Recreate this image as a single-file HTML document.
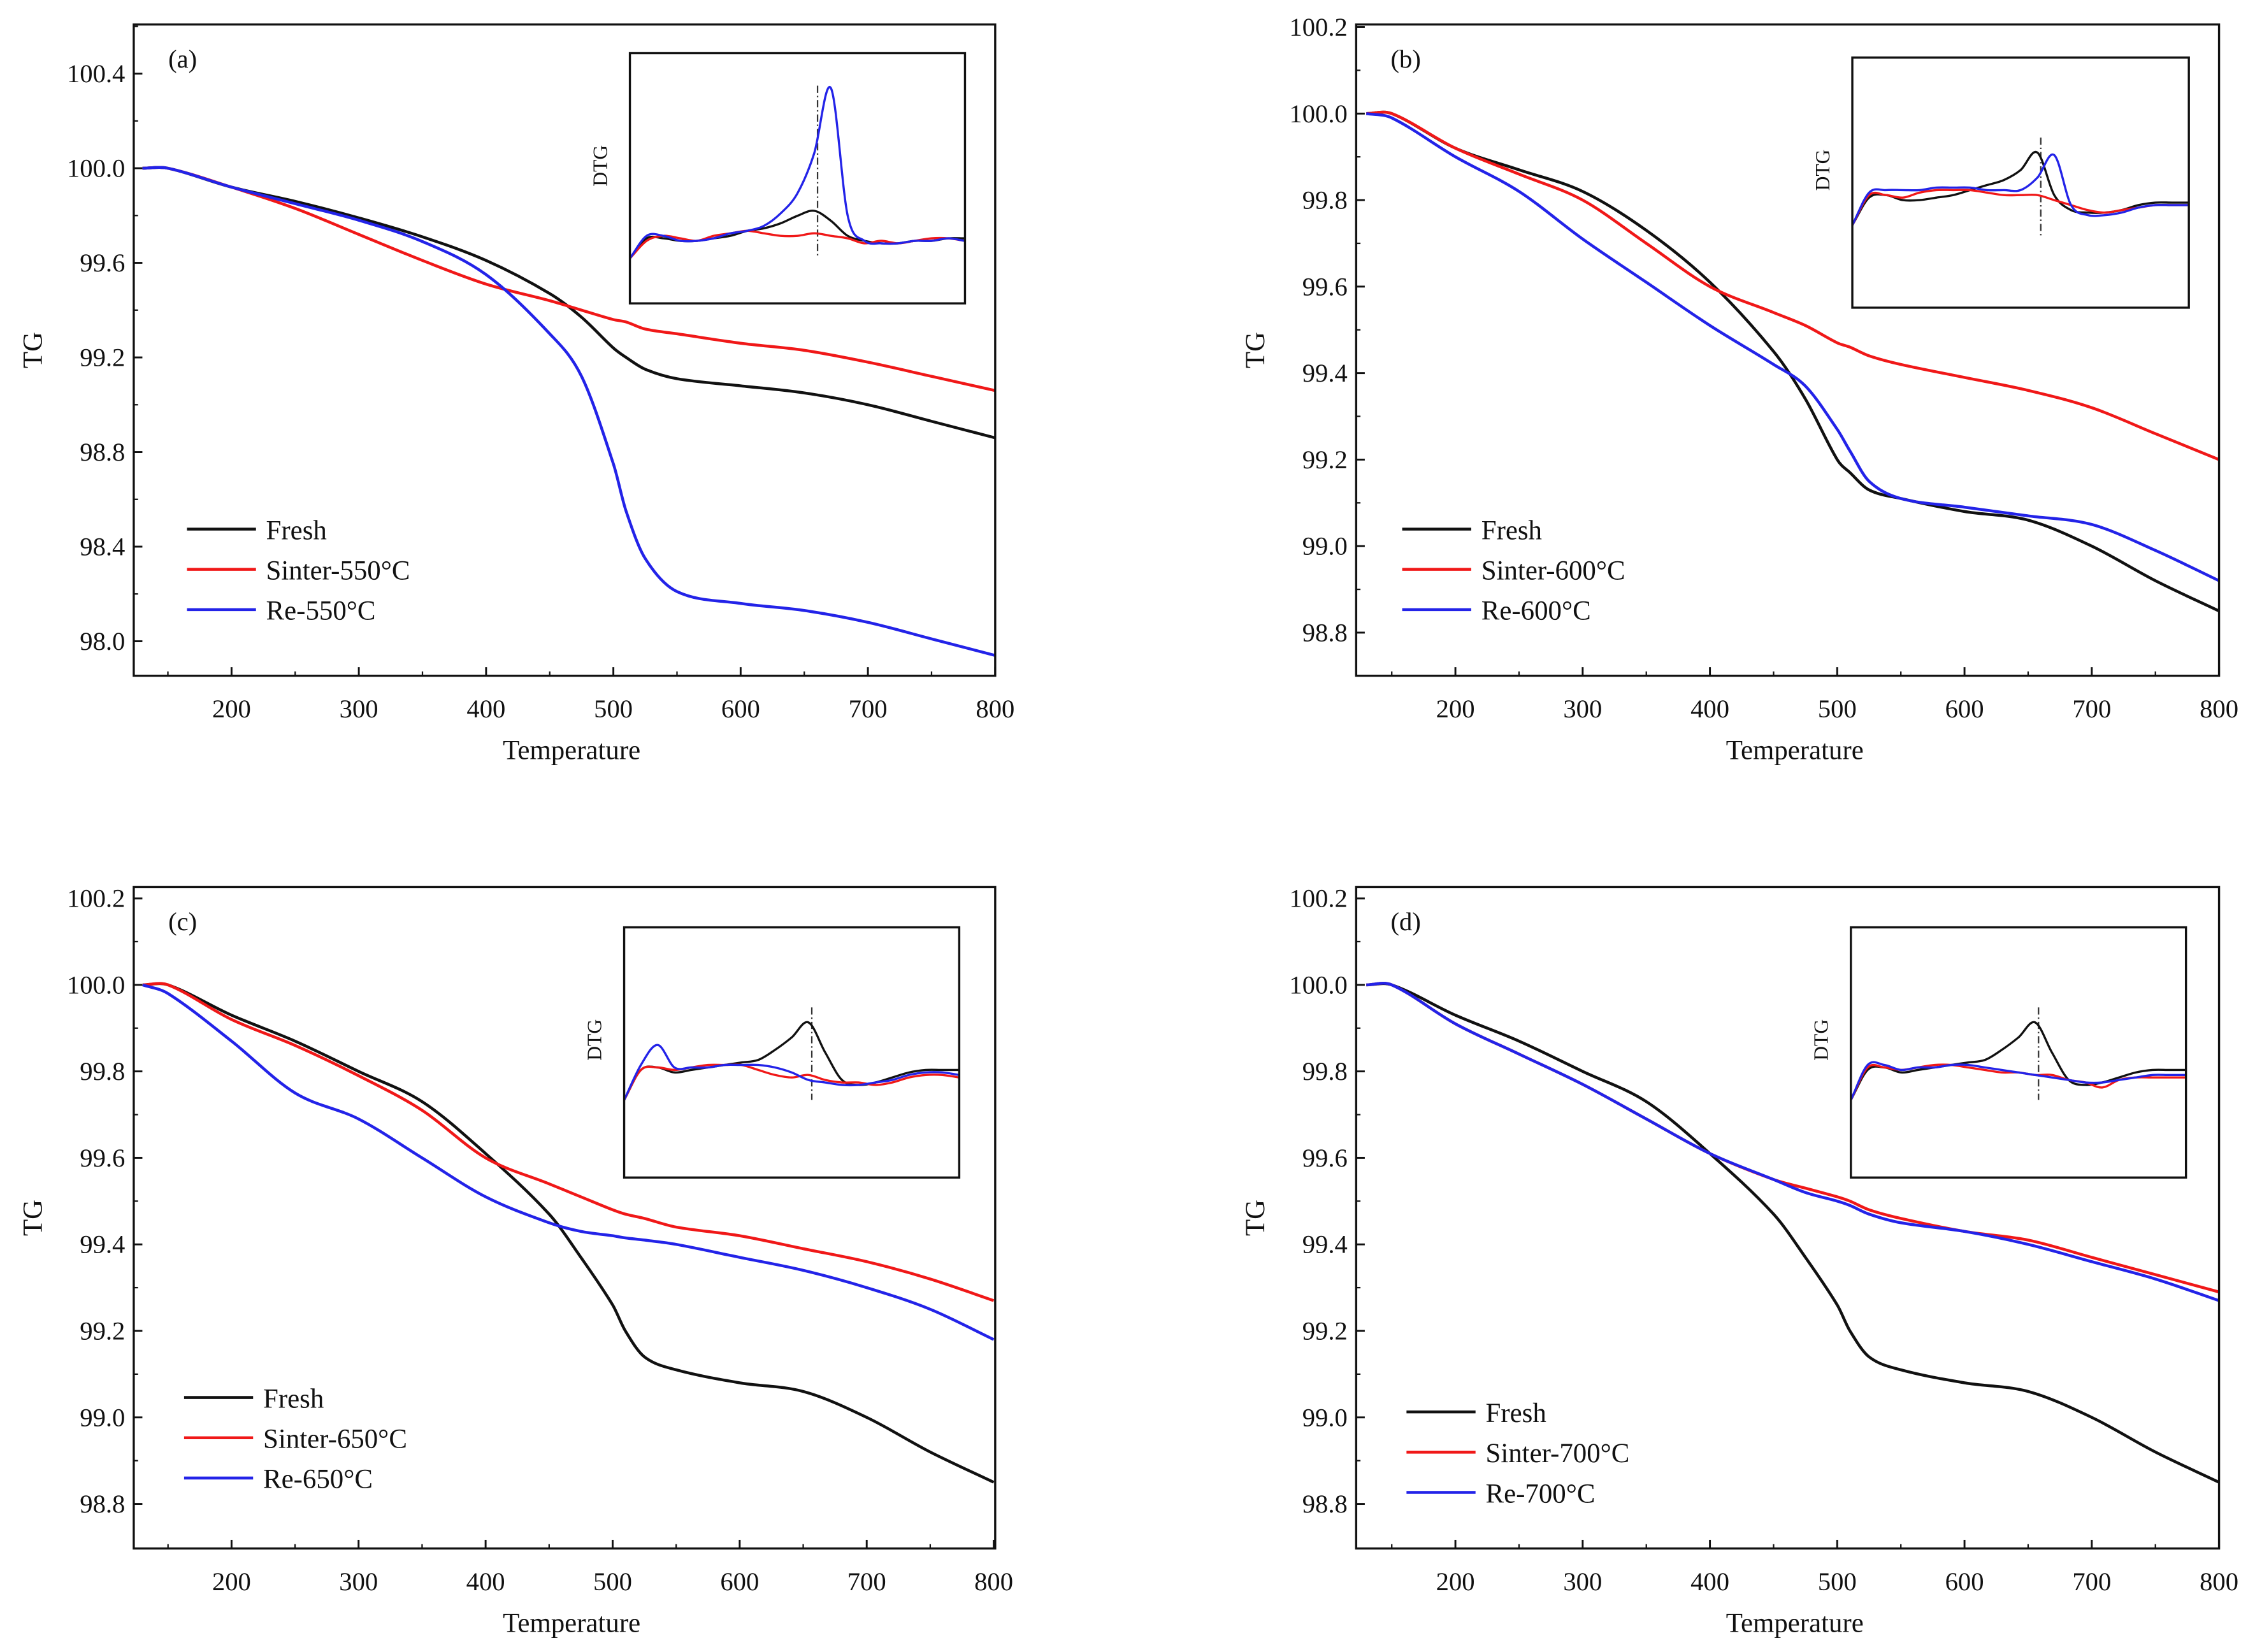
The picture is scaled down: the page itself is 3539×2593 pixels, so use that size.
<!DOCTYPE html>
<html><head><meta charset="utf-8"><style>
html,body{margin:0;padding:0;background:#fff;}
svg{display:block;}
text{font-family:"Liberation Serif",serif;fill:#111;}
</style></head><body>
<svg id="fig" width="3539" height="2593" viewBox="0 0 1568 1149" preserveAspectRatio="none" xmlns="http://www.w3.org/2000/svg"></svg>
<script>
// ---------- data ----------
const temps = [130,150,200,250,300,350,400,450,475,500,510,525,550,600,650,700,750,800];
const freshA  = [100,100,99.92,99.86,99.79,99.71,99.61,99.47,99.37,99.24,99.2,99.15,99.11,99.08,99.05,99.0,98.93,98.86];
const sinterA = [100,100,99.92,99.83,99.72,99.61,99.51,99.44,99.40,99.36,99.35,99.32,99.30,99.26,99.23,99.18,99.12,99.06];
const reA     = [100,100,99.92,99.85,99.78,99.69,99.55,99.3,99.12,98.75,98.55,98.35,98.21,98.16,98.13,98.08,98.01,97.94];
const freshB  = [100,100,99.92,99.87,99.82,99.73,99.61,99.45,99.34,99.2,99.17,99.13,99.11,99.08,99.06,99.0,98.92,98.85];
const sinterB = [100,100,99.92,99.86,99.80,99.70,99.60,99.54,99.51,99.47,99.46,99.44,99.42,99.39,99.36,99.32,99.26,99.2];
const reB     = [100,99.99,99.90,99.82,99.71,99.61,99.51,99.42,99.37,99.27,99.22,99.15,99.11,99.09,99.07,99.05,98.99,98.92];
const freshC  = [100,100,99.93,99.87,99.80,99.73,99.61,99.47,99.37,99.26,99.2,99.14,99.11,99.08,99.06,99.0,98.92,98.85];
const sinterC = [100,100,99.92,99.86,99.79,99.71,99.6,99.54,99.51,99.48,99.47,99.46,99.44,99.42,99.39,99.36,99.32,99.27];
const reC     = [100,99.98,99.87,99.75,99.69,99.60,99.51,99.45,99.43,99.42,99.415,99.41,99.40,99.37,99.34,99.3,99.25,99.18];
const freshD  = [100,100,99.93,99.87,99.80,99.73,99.61,99.47,99.37,99.26,99.2,99.14,99.11,99.08,99.06,99.0,98.92,98.85];
const sinterD = [100,100,99.91,99.84,99.77,99.69,99.61,99.55,99.53,99.51,99.50,99.48,99.46,99.43,99.41,99.37,99.33,99.29];
const reD     = [100,100,99.91,99.84,99.77,99.69,99.61,99.55,99.52,99.5,99.49,99.47,99.45,99.43,99.40,99.36,99.32,99.27];
const xTicks = [200,300,400,500,600,700,800];
const yTicksA = [98.0,98.4,98.8,99.2,99.6,100.0,100.4];
const yTicksB = [98.8,99.0,99.2,99.4,99.6,99.8,100.0,100.2];
const legendA = ["Fresh","Sinter-550°C","Re-550°C"];
const legendB = ["Fresh","Sinter-600°C","Re-600°C"];
const legendC = ["Fresh","Sinter-650°C","Re-650°C"];
const legendD = ["Fresh","Sinter-700°C","Re-700°C"];
// DTG insets (relative units, 21 evenly spaced samples)
const dtgBlackA = [0.18,0.26,0.26,0.25,0.25,0.26,0.27,0.29,0.3,0.32,0.35,0.37,0.33,0.27,0.25,0.24,0.24,0.25,0.25,0.26,0.26];
const dtgRedA   = [0.18,0.25,0.27,0.26,0.25,0.27,0.28,0.29,0.28,0.27,0.27,0.28,0.27,0.26,0.24,0.25,0.24,0.25,0.26,0.26,0.25];
const dtgBlueA  = [0.18,0.27,0.27,0.25,0.25,0.26,0.28,0.29,0.31,0.36,0.44,0.6,0.86,0.35,0.25,0.24,0.24,0.25,0.25,0.26,0.25];
const dtgBlackB = [0.33,0.44,0.45,0.43,0.43,0.44,0.45,0.47,0.49,0.51,0.55,0.62,0.45,0.39,0.38,0.38,0.39,0.41,0.42,0.42,0.42];
const dtgRedB   = [0.33,0.45,0.45,0.44,0.46,0.47,0.47,0.47,0.46,0.45,0.45,0.45,0.43,0.41,0.39,0.38,0.39,0.40,0.41,0.41,0.41];
const dtgBlueB  = [0.33,0.46,0.47,0.47,0.47,0.48,0.48,0.48,0.47,0.47,0.47,0.52,0.61,0.41,0.37,0.37,0.38,0.40,0.41,0.41,0.41];
const dtgBlackC = [0.31,0.43,0.44,0.42,0.43,0.44,0.45,0.46,0.47,0.51,0.56,0.62,0.50,0.39,0.37,0.38,0.40,0.42,0.43,0.43,0.43];
const dtgRedC   = [0.31,0.43,0.44,0.43,0.44,0.45,0.45,0.45,0.43,0.41,0.40,0.41,0.39,0.38,0.38,0.37,0.38,0.40,0.41,0.41,0.40];
const dtgBlueC  = [0.31,0.45,0.53,0.44,0.44,0.44,0.45,0.45,0.45,0.44,0.42,0.39,0.38,0.37,0.37,0.38,0.39,0.41,0.42,0.42,0.41];
const dtgBlackD = [0.31,0.43,0.44,0.42,0.43,0.44,0.45,0.46,0.47,0.51,0.56,0.62,0.50,0.39,0.37,0.38,0.40,0.42,0.43,0.43,0.43];
const dtgRedD   = [0.31,0.44,0.44,0.43,0.44,0.45,0.45,0.44,0.43,0.42,0.42,0.41,0.41,0.39,0.38,0.36,0.39,0.40,0.40,0.40,0.40];
const dtgBlueD  = [0.31,0.45,0.45,0.43,0.44,0.44,0.45,0.45,0.44,0.43,0.42,0.41,0.40,0.39,0.38,0.38,0.39,0.40,0.41,0.41,0.41];

// ---------- drawing ----------
const svg = document.getElementById('fig');
const NS = 'http://www.w3.org/2000/svg';
function mk(tag, attrs, parent){ const e=document.createElementNS(NS,tag); for(const k in attrs) e.setAttribute(k,attrs[k]); (parent||svg).appendChild(e); return e; }
function smooth(pts){
  const n=pts.length, m=[];
  for(let i=0;i<n;i++){
    const a=pts[Math.max(0,i-1)], b=pts[Math.min(n-1,i+1)];
    m.push((b[1]-a[1])/(b[0]-a[0]));
  }
  let d='M'+pts[0][0].toFixed(2)+','+pts[0][1].toFixed(2);
  for(let i=0;i<n-1;i++){
    const p1=pts[i], p2=pts[i+1], dx=(p2[0]-p1[0])/3;
    d+=' C'+(p1[0]+dx).toFixed(2)+','+(p1[1]+m[i]*dx).toFixed(2)+' '+(p2[0]-dx).toFixed(2)+','+(p2[1]-m[i+1]*dx).toFixed(2)+' '+p2[0].toFixed(2)+','+p2[1].toFixed(2);
  }
  return d;
}
const colors=['#111','#f01818','#2323e8'];
function panel(cfg){
  const g=mk('g',{});
  
  
  const {x0,x1,y0,y1}=cfg.box;
  const sx=t=>cfg.xp[0]+(t-cfg.xv[0])*(cfg.xp[1]-cfg.xp[0])/(cfg.xv[1]-cfg.xv[0]);
  const sy=v=>cfg.yp[0]+(v-cfg.yv[0])*(cfg.yp[1]-cfg.yp[0])/(cfg.yv[1]-cfg.yv[0]);
  const cp='clip-'+cfg.id;
  const cl=mk('clipPath',{id:cp},g); mk('rect',{x:x0,y:y0,width:x1-x0,height:y1-y0},cl);
  cfg.series.forEach((s,i)=>{
    const p=mk('path',{d:smooth(temps.map((t,j)=>[sx(t),sy(s[j])])),fill:'none',stroke:colors[i],'stroke-width':2,'clip-path':'url(#'+cp+')'},g);
    
    
  });
  const fr=mk('rect',{x:x0,y:y0,width:x1-x0,height:y1-y0,fill:'none',stroke:'#111','stroke-width':1.5},g);
  
  
  xTicks.forEach(t=>{
    const x=sx(t);
    mk('line',{x1:x,x2:x,y1:y1,y2:y1-6,stroke:'#111','stroke-width':1.3},g);
    if(t+50<=800) mk('line',{x1:sx(t+50),x2:sx(t+50),y1:y1,y2:y1-3,stroke:'#111','stroke-width':1},g);
    const tx=mk('text',{x:x,y:y1+29,'font-size':18,'text-anchor':'middle'},g); tx.textContent=t;
    
    
  });
  mk('line',{x1:sx(150),x2:sx(150),y1:y1,y2:y1-3,stroke:'#111','stroke-width':1},g);
  const yt=cfg.yticks, step=yt[1]-yt[0];
  yt.forEach(v=>{
    const y=sy(v);
    mk('line',{x1:x0,x2:x0+6,y1:y,y2:y,stroke:'#111','stroke-width':1.3},g);
    const ym=sy(v+step/2); if(ym>y0) mk('line',{x1:x0,x2:x0+3,y1:ym,y2:ym,stroke:'#111','stroke-width':1},g);
    const tx=mk('text',{x:x0-6,y:y+6,'font-size':18,'text-anchor':'end'},g); tx.textContent=v.toFixed(1);
    
    
  });
  const xl=mk('text',{x:(x0+x1)/2+5,y:y1+58,'font-size':19,'text-anchor':'middle'},g); xl.textContent='Temperature';
  
  
  const yl=mk('text',{x:0,y:0,'font-size':19,'text-anchor':'middle',transform:'translate('+(x0-64)+','+((y0+y1)/2)+') rotate(-90)'},g); yl.textContent='TG';
  
  
  const pl=mk('text',{x:x0+24,y:y0+30,'font-size':18},g); pl.textContent='('+cfg.id+')';
  
  
  cfg.legend.forEach((name,i)=>{
    const y=cfg.leg.y+i*28;
    const lg=mk('g',{},g);
    
    
    mk('line',{x1:cfg.leg.x,x2:cfg.leg.x+48,y1:y,y2:y,stroke:colors[i],'stroke-width':2},lg);
    const t=mk('text',{x:cfg.leg.x+55,y:y+7,'font-size':19},lg); t.textContent=name;
  });
  const ib=cfg.inset;
  const ig=mk('g',{},g);
  
  
  const ix=f=>ib.x0+f*(ib.x1-ib.x0), iy=v=>ib.y1-v*(ib.y1-ib.y0);
  mk('line',{x1:ix(cfg.dash),x2:ix(cfg.dash),y1:iy(cfg.dashY[1]),y2:iy(cfg.dashY[0]),stroke:'#333','stroke-width':1,'stroke-dasharray':'5,2,1,2'},ig);
  cfg.dtg.forEach((arr,i)=>{
    const p=mk('path',{d:smooth(arr.map((v,j)=>[ix(j/(arr.length-1)),iy(v)])),fill:'none',stroke:colors[i],'stroke-width':1.5},ig);
    
    
  });
  mk('rect',{x:ib.x0,y:ib.y0,width:ib.x1-ib.x0,height:ib.y1-ib.y0,fill:'none',stroke:'#111','stroke-width':1.5},ig);
  const dl=mk('text',{x:0,y:0,'font-size':14,'text-anchor':'middle',transform:'translate('+(ib.x0-16)+','+(ib.y0+(ib.y1-ib.y0)*0.45)+') rotate(-90)'},ig); dl.textContent='DTG';
}
panel({id:'a',box:{x0:93,x1:692,y0:17,y1:470},xp:[161,692],xv:[200,800],yp:[446,117],yv:[98.0,100.0],yticks:yTicksA,
  series:[freshA,sinterA,reA],legend:legendA,leg:{x:130,y:368},inset:{x0:438,x1:671,y0:37,y1:211},
  dtg:[dtgBlackA,dtgRedA,dtgBlueA],dash:0.56,dashY:[0.19,0.87]});
panel({id:'b',box:{x0:943,x1:1543,y0:17,y1:470},xp:[1012,1543],xv:[200,800],yp:[440,79],yv:[98.8,100.0],yticks:yTicksB,
  series:[freshB,sinterB,reB],legend:legendB,leg:{x:975,y:368},inset:{x0:1288,x1:1522,y0:40,y1:214},
  dtg:[dtgBlackB,dtgRedB,dtgBlueB],dash:0.56,dashY:[0.28,0.68]});
panel({id:'c',box:{x0:93,x1:692,y0:617,y1:1077},xp:[161,691],xv:[200,800],yp:[1046,685],yv:[98.8,100.0],yticks:yTicksB,
  series:[freshC,sinterC,reC],legend:legendC,leg:{x:128,y:972},inset:{x0:434,x1:667,y0:645,y1:819},
  dtg:[dtgBlackC,dtgRedC,dtgBlueC],dash:0.56,dashY:[0.31,0.68]});
panel({id:'d',box:{x0:943,x1:1543,y0:617,y1:1077},xp:[1012,1543],xv:[200,800],yp:[1046,685],yv:[98.8,100.0],yticks:yTicksB,
  series:[freshD,sinterD,reD],legend:legendD,leg:{x:978,y:982},inset:{x0:1287,x1:1520,y0:645,y1:819},
  dtg:[dtgBlackD,dtgRedD,dtgBlueD],dash:0.56,dashY:[0.31,0.68]});
</script>
</body></html>
